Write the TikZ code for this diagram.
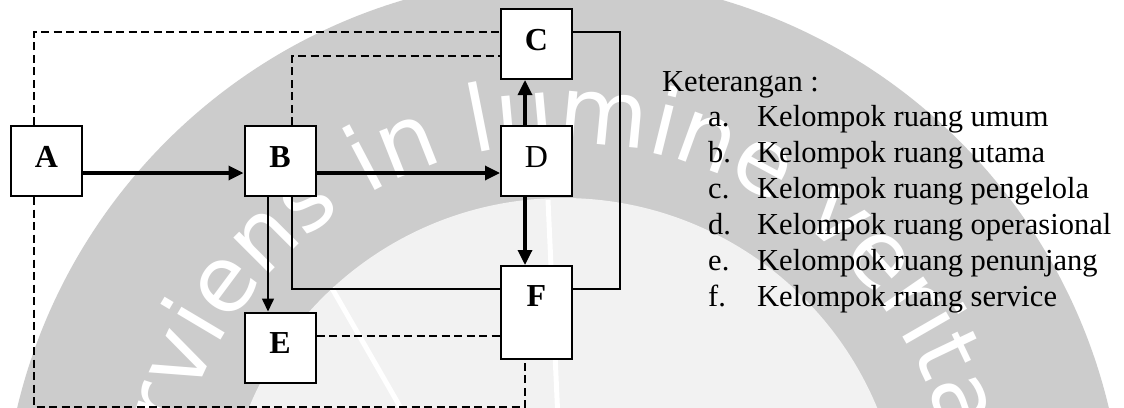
\documentclass[tikz,border=0pt]{standalone}
\usepackage{fontspec}
\setmainfont{Liberation Serif}
\newfontfamily\wmfont{DejaVu Sans}
\usetikzlibrary{arrows.meta,decorations.text}

\definecolor{wmring}{HTML}{CCCCCC}
\definecolor{wmcore}{HTML}{F2F2F2}

\begin{document}
\begin{tikzpicture}[x=1pt,y=-1pt,
  box/.style={draw, line width=2pt, fill=white, minimum width=71pt,
    minimum height=70pt, inner sep=0pt, text height=21pt, text depth=9pt,
    font=\fontsize{32}{32}\selectfont},
  flow/.style={line width=3.3pt, -{Triangle[length=15pt,width=14pt]}},
  thinflow/.style={line width=1.6pt, -{Triangle[length=13pt,width=12pt]}},
  link/.style={line width=1.6pt},
  dashlink/.style={line width=1.6pt, dash pattern=on 8pt off 4.5pt},
  legend/.style={anchor=base west, inner sep=0pt,
    font=\fontsize{30.5}{30.5}\selectfont}
]
% page
\fill[white] (0,0) rectangle (1124,407);
\useasboundingbox (0,0) rectangle (1124,407);

% background seal
\begin{scope}[x=1pt,y=1pt]
  \clip (0,0) rectangle (1124,-407);
  \fill[wmring] (563,-538) circle[radius=561];
  \fill[wmcore] (563,-538) circle[radius=340];
  \begin{scope}
    \clip (563,-538) circle[radius=340];
    \draw[white, line width=5pt] (287,-210) -- (410,-424);
    \draw[white, line width=5pt] (548,-200) -- (558,-420);
  \end{scope}
  \path[decorate, decoration={text along path, text align=center,
      text color=white,
      text={|\wmfont\fontsize{92}{92}\selectfont|Serviens in lumine veritatis}}]
    (563,-538) ++(185:395) arc[start angle=185, end angle=-5, radius=395];
\end{scope}

% boxes
\node[box] (A) at (46.5,161) {\bfseries A};
\node[box] (B) at (280,161) {\bfseries B};
\node[box] (C) at (536.5,44) {\bfseries C};
\node[box] (D) at (536.5,161) {D};
\node[box] (E) at (280,347.5) {\bfseries E};
\node[box, minimum height=93pt, text depth=33pt] (F) at (536.5,312.5) {\bfseries F};

% main flow
\draw[flow] ([yshift=-12pt]A.east) -- ([yshift=-12pt]B.west);
\draw[flow] ([yshift=-12pt]B.east) -- ([yshift=-12pt]D.west);
\draw[flow] ([xshift=-11.5pt]D.north) -- ([xshift=-11.5pt]C.south);
\draw[flow] ([xshift=-11.5pt]D.south) -- ([xshift=-11.5pt]F.north);
\draw[thinflow] ([xshift=-12pt]B.south) -- ([xshift=-12pt]E.north);

% solid links
\draw[link] ([xshift=12pt]B.south) |- ([yshift=23.5pt]F.west);
\draw[link] ([yshift=12pt]C.east) -- ++(47,0) |- ([yshift=23.5pt]F.east);

% dashed links
\draw[dashlink] ([xshift=-12.5pt]A.north) |- ([yshift=12pt]C.west);
\draw[dashlink] ([xshift=12pt]B.north) |- ([yshift=-12pt]C.west);
\draw[dashlink] ([xshift=-12.5pt]A.south) -- ++(0,210) -| ([xshift=-11.5pt]F.south);
\draw[dashlink] ([yshift=11.5pt]E.east) -- ([yshift=11.5pt]E.east -| F.west);

% legend
\node[legend] (ket) at (662,91) {Keterangan :};
\foreach \m/\t [count=\i] in {a./umum, b./utama, c./pengelola,
    d./operasional, e./penunjang, f./service} {
  \node[legend] (m\i) at (708,{126.7+35.9*(\i-1)}) {\m};
  \node[legend] (t\i) at (757,{126.7+35.9*(\i-1)}) {Kelompok ruang \t};
}
\end{tikzpicture}
\end{document}
